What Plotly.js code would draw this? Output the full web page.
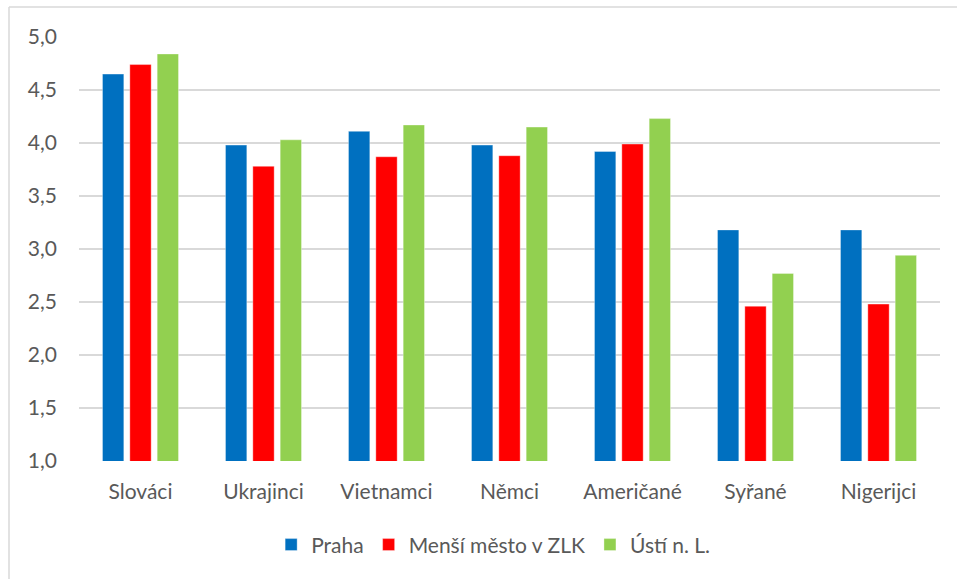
<!DOCTYPE html>
<html>
<head>
<meta charset="utf-8">
<script src="https://cdn.plot.ly/plotly-3.0.1.min.js"></script>
<style>html,body{margin:0;padding:0;background:#fff;}#chart{width:957px;height:579px;}</style>
</head>
<body>
<div id="chart"></div>
<script>
const categories = ["Slováci", "Ukrajinci", "Vietnamci", "Němci", "Američané", "Syřané", "Nigerijci"];
const seriesNames = ["Praha", "Menší město v ZLK", "Ústí n. L."];
const praha = [4.65, 3.98, 4.11, 3.98, 3.92, 3.18, 3.18];
const mensiMesto = [4.74, 3.78, 3.87, 3.88, 3.99, 2.46, 2.48];
const usti = [4.84, 4.03, 4.17, 4.15, 4.23, 2.77, 2.94];
const colors = ["#0070C0", "#FF0000", "#92D050"];
const yTicks = [1.0, 1.5, 2.0, 2.5, 3.0, 3.5, 4.0, 4.5, 5.0];

const values = [praha, mensiMesto, usti];
const data = values.map((v, i) => ({
  type: "bar",
  name: seriesNames[i],
  x: categories,
  y: v,
  base: 0,
  marker: {color: colors[i], line: {color: "rgba(255,255,255,0.35)", width: 1}},
  hoverinfo: "x+y+name"
}));

const font = {family: "Lato, 'Open Sans', sans-serif", size: 21, color: "#595959"};

const layout = {
  width: 957, height: 579,
  margin: {l: 79, r: 17, t: 37, b: 118},
  paper_bgcolor: "#fff", plot_bgcolor: "#fff",
  font: font,
  separators: ",.",
  barmode: "group",
  bargap: 0.333,
  bargroupgap: 0.22,
  showlegend: true,
  legend: {
    orientation: "h", x: 0.481, xanchor: "center", y: -0.198, yanchor: "middle",
    font: font, itemwidth: 30, traceorder: "normal"
  },
  xaxis: {
    type: "category", showgrid: false, showline: false, zeroline: false,
    ticks: "", tickfont: font, ticklabelstandoff: 16
  },
  yaxis: {
    range: [1.0, 5.0], tickvals: yTicks, tickformat: ".1f",
    showgrid: true, gridcolor: "#d9d9d9", gridwidth: 1.5,
    zeroline: false, showline: false, ticks: "",
    tickfont: font, ticklabelstandoff: 21
  },
  shapes: [
    {type: "line", xref: "paper", yref: "paper", x0: -0.0813, x1: 1.03, y0: 1.0708, y1: 1.0708,
     line: {color: "#d9d9d9", width: 1.5}},
    {type: "line", xref: "paper", yref: "paper", x0: -0.0813, x1: -0.0813, y0: 1.0708, y1: -0.3,
     line: {color: "#d9d9d9", width: 1.5}}
  ]
};

Plotly.newPlot("chart", data, layout, {displayModeBar: false, responsive: false});
</script>
</body>
</html>
